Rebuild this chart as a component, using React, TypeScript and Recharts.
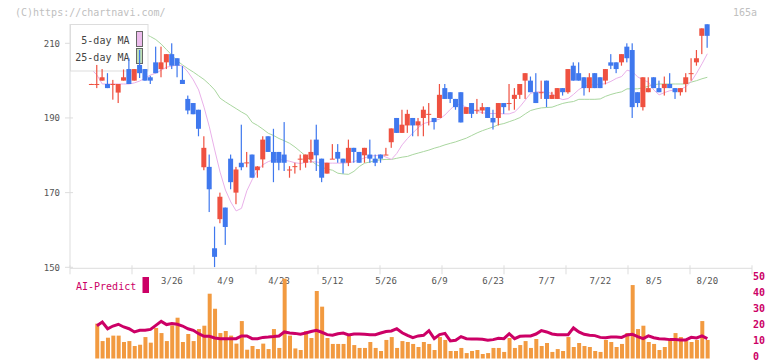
import { Bar, ComposedChart, Line, XAxis, YAxis } from "recharts";

// daily candles, oldest first (index 0 = first trading day shown)
const opens = [
  199.1, 199.1, 200.0, 199.1, 199.0, 196.8, 200.0, 203.1, 200.0, 204.2,
  203.1, 200.9, 204.9, 203.1, 204.9, 207.1, 206.0, 200.2, 195.1, 194.0,
  192.2, 176.8, 176.9, 155.1, 162.9, 166.0, 179.1, 170.0, 178.0, 178.0,
  180.2, 176.0, 178.9, 185.1, 180.9, 180.9, 180.2, 176.1, 177.0, 179.0,
  178.0, 178.9, 184.2, 179.1, 175.1, 179.0, 180.9, 179.1, 178.0, 182.0,
  180.9, 180.0, 180.2, 179.1, 180.2, 180.1, 183.5, 190.0, 186.0, 188.0,
  190.0, 188.0, 190.0, 191.0, 190.0, 190.0, 198.0, 196.9, 195.1, 196.9,
  191.1, 194.0, 192.1, 192.0, 192.9, 190.0, 190.0, 194.0, 193.9, 195.1,
  196.2, 200.0, 200.0, 196.9, 196.8, 200.0, 195.1, 195.1, 198.0, 196.9,
  204.0, 202.0, 200.9, 198.0, 202.0, 200.9, 200.0, 204.9, 204.9, 204.9,
  209.1, 208.2, 196.9, 192.9, 196.9, 200.9, 198.0, 198.0, 199.1, 198.0,
  196.9, 199.1, 201.9, 204.9, 212.0, 215.1,
];
const closes = [
  199.1, 199.1, 200.9, 198.0, 199.1, 199.1, 200.9, 199.1, 203.1, 202.0,
  200.0, 200.0, 202.0, 204.9, 207.1, 204.0, 204.0, 199.1, 192.0, 191.0,
  187.1, 182.0, 170.9, 152.8, 168.9, 160.8, 172.8, 176.2, 176.8, 178.1,
  174.0, 177.0, 184.2, 180.9, 178.0, 178.0, 178.0, 176.2, 177.1, 179.1,
  180.2, 180.9, 180.0, 174.0, 178.0, 179.1, 179.1, 178.0, 182.0, 180.9,
  178.0, 182.0, 179.1, 178.0, 179.1, 180.2, 187.2, 186.0, 188.2, 191.1,
  188.0, 189.1, 192.2, 191.1, 188.9, 196.2, 195.1, 195.1, 192.9, 188.8,
  192.9, 191.1, 192.2, 192.9, 190.0, 188.8, 194.0, 192.9, 194.0, 196.2,
  199.1, 202.0, 196.9, 194.0, 196.9, 195.1, 196.2, 198.0, 196.9, 203.1,
  200.0, 200.0, 198.0, 200.9, 198.0, 198.0, 203.1, 204.0, 203.1, 207.1,
  206.0, 192.9, 194.0, 200.9, 198.0, 198.0, 196.9, 199.1, 198.0, 196.9,
  198.0, 200.9, 202.0, 206.0, 214.0, 212.0,
];
const highs = [
  199.15, 204.2, 203.1, 202.0, 200.2, 199.1, 203.0, 206.0, 203.1, 208.2,
  203.1, 201.3, 209.1, 209.1, 207.1, 210.0, 206.0, 203.9, 196.0, 194.0,
  192.2, 185.1, 180.2, 160.9, 170.0, 166.0, 180.2, 176.9, 188.2, 180.9,
  180.2, 177.1, 185.1, 185.1, 187.1, 180.9, 188.9, 177.1, 178.0, 180.2,
  180.2, 184.2, 188.2, 179.1, 178.0, 183.0, 183.0, 179.1, 184.2, 182.0,
  180.9, 182.0, 184.2, 180.2, 180.2, 182.0, 187.2, 190.0, 192.2, 192.2,
  190.0, 190.0, 193.1, 194.0, 190.0, 199.1, 199.1, 196.9, 195.1, 196.9,
  192.9, 194.0, 195.1, 194.0, 192.9, 192.2, 194.0, 194.0, 199.1, 198.0,
  199.1, 202.0, 201.1, 202.0, 200.0, 200.0, 197.0, 198.0, 198.0, 203.1,
  204.9, 204.9, 200.9, 202.0, 202.0, 200.9, 203.1, 207.1, 204.9, 207.1,
  210.0, 210.0, 196.9, 200.9, 200.9, 200.9, 200.0, 201.1, 202.0, 198.0,
  198.0, 202.0, 206.0, 208.2, 214.0, 215.1,
];
const lows = [
  199.05, 198.0, 200.0, 198.0, 194.9, 194.0, 200.0, 199.1, 200.0, 200.7,
  200.0, 199.1, 202.0, 200.9, 203.1, 203.1, 200.9, 199.1, 191.0, 191.0,
  185.1, 176.0, 164.8, 150.0, 161.8, 156.0, 170.9, 166.9, 176.0, 176.8,
  174.0, 174.0, 176.7, 180.9, 172.8, 176.0, 175.8, 174.0, 175.1, 176.0,
  176.7, 178.0, 175.8, 172.8, 175.1, 179.0, 178.0, 175.1, 177.1, 178.0,
  178.0, 178.0, 178.0, 177.1, 178.0, 180.1, 182.0, 186.0, 186.0, 186.0,
  185.1, 185.1, 185.1, 188.0, 186.9, 190.0, 195.1, 194.0, 192.2, 188.8,
  191.1, 190.0, 191.1, 191.1, 190.0, 186.9, 188.0, 191.1, 192.0, 192.2,
  195.1, 195.1, 196.9, 194.0, 195.1, 192.9, 195.1, 195.1, 196.0, 196.5,
  200.0, 200.0, 196.0, 196.9, 198.0, 198.0, 199.0, 203.1, 202.0, 204.0,
  204.9, 190.0, 192.9, 192.0, 196.9, 198.0, 196.9, 196.0, 198.0, 195.1,
  196.0, 196.9, 200.0, 204.0, 207.1, 208.8,
];

const ma5 = [
  203.0, 201.5, 199.1, 199.1, 199.1, 199.1, 199.1, 199.1, 199.4, 199.9,
  200.7, 201.5, 202.0, 202.8, 203.6, 203.9, 204.2, 203.9, 202.3, 200.2,
  197.5, 192.9, 187.6, 181.4, 175.5, 170.7, 167.5, 165.1, 165.8, 170.5,
  173.5, 176.0, 177.5, 178.3, 178.8, 178.9, 178.7, 178.4, 178.0, 177.8,
  178.1, 178.3, 178.2, 178.0, 177.9, 177.9, 177.9, 177.9, 178.0, 178.3,
  178.8, 179.3, 179.8, 179.9, 180.1, 179.5, 178.9, 180.5, 182.8, 184.5,
  186.0, 187.4, 188.5, 188.9, 189.3, 189.7, 190.8, 192.3, 193.6, 193.5,
  192.9, 192.3, 191.8, 191.4, 191.2, 191.2, 191.2, 191.1, 191.1, 191.6,
  193.0, 194.8, 196.6, 197.0, 197.0, 197.0, 196.5, 195.5, 194.9, 195.2,
  196.3, 197.6, 198.5, 198.8, 199.0, 199.0, 199.2, 199.8, 200.6, 201.1,
  202.8, 202.4, 201.0, 200.2, 199.6, 197.5, 196.2, 196.8, 197.3, 197.5,
  197.6, 198.4, 199.8, 202.0, 204.5, 207.2,
];
const ma25 = [
  214.5, 214.3, 214.1, 213.9, 213.7, 213.5, 213.3, 213.1, 212.9, 212.7,
  212.5, 211.8, 211.0, 209.8, 208.3, 206.8, 205.3, 204.2, 203.2, 202.3,
  201.3, 200.3, 199.0, 197.5, 195.3, 194.3, 193.4, 192.5, 191.6, 190.8,
  188.8, 188.0, 187.0, 185.9, 185.3, 184.5, 183.9, 183.2, 182.2, 181.0,
  179.8, 178.5, 177.5, 176.8, 176.3, 176.0, 175.2, 175.0, 174.9, 175.7,
  177.0, 177.9, 178.2, 178.6, 178.8, 178.9, 178.9, 179.2, 179.5, 179.7,
  180.2, 180.6, 181.0, 181.4, 181.9, 182.3, 182.8, 183.2, 183.6, 184.1,
  184.6, 185.3, 186.0, 186.6, 187.1, 187.6, 188.2, 188.5, 189.0, 189.5,
  190.1, 191.1, 192.0, 192.4, 192.7, 192.8, 192.9, 193.4, 193.9, 194.2,
  194.4, 195.0, 195.0, 195.0, 195.0, 195.1, 195.8, 196.3, 196.7, 197.0,
  197.8, 197.8, 197.8, 198.1, 198.5, 198.9, 199.1, 199.1, 199.1, 199.1,
  199.1, 199.1, 199.6, 200.0, 200.5, 200.9,
];

const volumes = [
  0, 21.8, 10.9, 13.0, 14.3, 14.3, 10.3, 10.9, 7.8, 8.6,
  13.4, 9.9, 19.1, 15.9, 10.9, 20.7, 25.5, 10.3, 15.3, 10.9,
  18.4, 20.5, 40.5, 31.1, 15.9, 17.2, 14.3, 9.3, 23.4, 5.5,
  7.8, 5.9, 9.3, 5.9, 18.4, 6.6, 49.9, 14.3, 6.3, 5.3,
  17.2, 12.8, 42.2, 32.4, 12.8, 9.1, 9.1, 9.1, 14.5, 8.4,
  6.6, 6.6, 10.3, 6.6, 4.7, 11.6, 13.4, 6.6, 10.9, 10.3,
  9.1, 7.2, 10.3, 9.1, 5.3, 13.4, 11.6, 4.7, 4.7, 6.6,
  3.4, 4.7, 5.3, 2.8, 3.4, 6.6, 6.6, 4.1, 12.8, 6.6,
  8.4, 10.9, 6.6, 12.2, 7.8, 9.7, 4.1, 5.9, 4.7, 13.4,
  7.2, 9.7, 7.8, 7.2, 4.7, 4.1, 11.6, 10.3, 7.2, 9.1,
  15.9, 45.9, 18.4, 20.5, 10.3, 9.1, 5.3, 7.2, 11.6, 15.9,
  13.4, 10.9, 10.3, 11.6, 23.4, 11.6,
];
const aiPredict = [
  null, 20.5, 22.8, 18.6, 20.3, 21.4, 19.7, 18.6, 16.6, 17.6,
  17.6, 18.2, 20.7, 23.2, 21.2, 21.8, 21.4, 20.3, 18.6, 17.6,
  15.5, 13.9, 13.9, 12.8, 12.4, 12.4, 12.4, 12.4, 14.1, 14.1,
  12.4, 12.4, 13.2, 13.4, 13.7, 14.1, 16.6, 15.9, 15.7, 15.2,
  15.9, 16.9, 17.6, 16.4, 14.9, 14.5, 15.5, 15.9, 14.7, 15.3,
  15.3, 15.1, 14.9, 14.9, 15.9, 16.9, 17.2, 18.6, 16.1, 14.5,
  13.0, 14.1, 14.5, 17.4, 12.4, 14.9, 15.7, 11.0, 11.4, 13.7,
  12.4, 12.2, 12.2, 12.0, 11.4, 11.8, 12.6, 12.4, 15.5, 12.4,
  13.9, 14.1, 14.1, 15.3, 17.4, 16.6, 15.3, 14.9, 14.9, 14.9,
  19.1, 16.6, 15.1, 14.5, 14.3, 13.2, 13.0, 13.4, 13.4, 13.2,
  14.7, 15.1, 13.7, 12.4, 14.1, 13.0, 12.4, 12.2, 11.8, 11.8,
  11.6, 11.6, 13.2, 12.8, 14.1, 12.4,
];

const tickLabels = ["3/26", "4/9", "4/23", "5/12", "5/26", "6/9", "6/23", "7/7", "7/22", "8/5", "8/20"];
const tickIdx = [15, 25, 35, 45, 55, 65, 75, 85, 95, 105, 115];
const priceTicks = [150, 170, 190, 210];
const aiTicks = [0, 10, 20, 30, 40, 50];
// bottom-axis tick marks, in day-index units (they do not sit on the candles)
const gridTicks = [-4.03, 7.55, 19.13, 30.71, 42.29, 53.87, 65.45, 77.03, 88.61, 100.19, 111.77, 123.35];
const GRID_DOMAIN = [-4.03, 123.35];

const rows = opens.map((o, i) => ({
  i,
  open: o,
  close: closes[i],
  high: highs[i],
  low: lows[i],
  range: [lows[i], highs[i]],
  ma5: ma5[i],
  ma25: ma25[i],
  vol: volumes[i] || null,
  ai: aiPredict[i],
}));

const RED = "#ef5140";
const BLUE = "#3f78ee";
const MAGENTA = "#cc0066";
const AXIS = "#dddddd";
const FONT = '"DejaVu Sans Mono", monospace';
const W = 772;
const PAD = { left: 18.9, right: 42 };
const PRICE_DOMAIN = [150, 215.17];

const Candle = (props: any) => {
  const { x, y, width, height, payload } = props;
  const { open, close, high, low } = payload;
  const k = high > low ? height / (high - low) : 0;
  const top = y + (high - Math.max(open, close)) * k;
  const bot = y + (high - Math.min(open, close)) * k;
  const color = close >= open ? RED : BLUE;
  const cx = x + width / 2;
  return (
    <g>
      <rect x={cx - 0.6} y={y} width={1.2} height={Math.max(height, 1)} fill={color} />
      <rect x={x} y={top} width={width} height={Math.max(bot - top, 1)} fill={color} />
    </g>
  );
};

// tick marks of the bottom axis: small crosses through the axis line
const GridTick = ({ x, y }: any) => (
  <line x1={x} x2={x} y1={y - 3} y2={y + 6} stroke={AXIS} />
);

const DateTick = ({ x, y, payload }: any) => {
  const k = tickIdx.indexOf(payload.value);
  if (k < 0) return <g />;
  return (
    <text x={x} y={y + 17} textAnchor="middle" fontSize={9} fontFamily={FONT} fill="#555">
      {tickLabels[k]}
    </text>
  );
};

const PriceTick = ({ x, y, payload }: any) => (
  <g>
    <line x1={x - 5} x2={x + 3} y1={y} y2={y} stroke={AXIS} />
    <text x={x - 10} y={y + 3.2} textAnchor="end" fontSize={9} fontFamily={FONT} fill="#555">
      {payload.value}
    </text>
  </g>
);

const AiTick = ({ x, y, payload }: any) => (
  <text x={x + 1} y={y + 1.5} fontSize={10} fontWeight="bold" fontFamily={FONT} fill={MAGENTA}>
    {payload.value}
  </text>
);

const layer = (top: number): React.CSSProperties => ({ position: "absolute", left: 0, top });

export default function App() {
  return (
    <div style={{ position: "absolute", left: 0, top: 0, width: W, height: 361, background: "#fff" }}>
      {/* axes + moving averages (under the legend box) */}
      <div style={layer(0)}>
        <ComposedChart width={W} height={298} data={rows} margin={{ top: 24, right: 20, left: 0, bottom: 28.7 }}>
          <XAxis
            xAxisId="g"
            dataKey="i"
            type="number"
            domain={GRID_DOMAIN}
            ticks={gridTicks}
            interval={0}
            height={1}
            axisLine={{ stroke: AXIS }}
            tickLine={false}
            tickSize={0}
            tickMargin={0}
            tick={<GridTick />}
            allowDataOverflow
          />
          <XAxis
            xAxisId="d"
            dataKey="i"
            type="category"
            scale="band"
            padding={PAD}
            interval={0}
            height={1}
            axisLine={false}
            tickLine={false}
            tickSize={0}
            tickMargin={0}
            tick={<DateTick />}
          />
          <YAxis
            domain={PRICE_DOMAIN}
            ticks={priceTicks}
            interval={0}
            width={70}
            axisLine={{ stroke: AXIS }}
            tickLine={false}
            tickSize={0}
            tickMargin={0}
            tick={<PriceTick />}
            allowDataOverflow
          />
          <Line xAxisId="d" dataKey="ma25" stroke="#a9d69f" strokeWidth={1} dot={false} isAnimationActive={false} />
          <Line xAxisId="d" dataKey="ma5" stroke="#e9b0e9" strokeWidth={1} dot={false} isAnimationActive={false} />
        </ComposedChart>
      </div>

      {/* legend box and captions */}
      <svg style={layer(0)} width={W} height={361} fontFamily={FONT}>
        <text x={15} y={16} fontSize={10} fill="#c0c0c0">(C)https://chartnavi.com/</text>
        <text x={757} y={16} fontSize={10} fill="#c0c0c0" textAnchor="end">165a</text>
        <rect x={70.5} y={24.5} width={77.5} height={46.5} fill="#fff" stroke={AXIS} />
        <text x={129.5} y={44} fontSize={10} fill="#444" textAnchor="end">5-day MA</text>
        <rect x={136.5} y={31.5} width={6} height={15} fill="#ecbcec" stroke="#666" />
        <text x={129.5} y={61} fontSize={10} fill="#444" textAnchor="end">25-day MA</text>
        <rect x={136.5} y={48.5} width={6} height={15} fill="#bfe0b6" stroke="#666" />
        <text x={76} y={289.5} fontSize={10} fill={MAGENTA}>AI-Predict</text>
        <rect x={142.5} y={277} width={6.5} height={16} fill={MAGENTA} />
      </svg>

      {/* candles on top of the legend */}
      <div style={layer(0)}>
        <ComposedChart width={W} height={298} data={rows} margin={{ top: 24, right: 20, left: 70, bottom: 30.7 }}>
          <XAxis dataKey="i" type="category" scale="band" padding={PAD} hide />
          <YAxis domain={PRICE_DOMAIN} hide allowDataOverflow />
          <Bar dataKey="range" barSize={5} shape={<Candle />} isAnimationActive={false} />
        </ComposedChart>
      </div>

      {/* volume + AI-Predict */}
      <div style={layer(270)}>
        <ComposedChart width={W} height={91} data={rows} margin={{ top: 0.5, right: 0, left: 70, bottom: 2.5 }}>
          <XAxis dataKey="i" type="category" scale="band" padding={PAD} hide />
          <YAxis
            orientation="right"
            width={20}
            domain={[0, 55]}
            ticks={aiTicks}
            interval={0}
            axisLine={false}
            tickLine={false}
            tickSize={0}
            tickMargin={0}
            tick={<AiTick />}
          />
          <Bar dataKey="vol" fill="#f29a40" barSize={4} isAnimationActive={false} />
          <Line dataKey="ai" stroke={MAGENTA} strokeWidth={3} dot={false} isAnimationActive={false} connectNulls />
        </ComposedChart>
      </div>
    </div>
  );
}
